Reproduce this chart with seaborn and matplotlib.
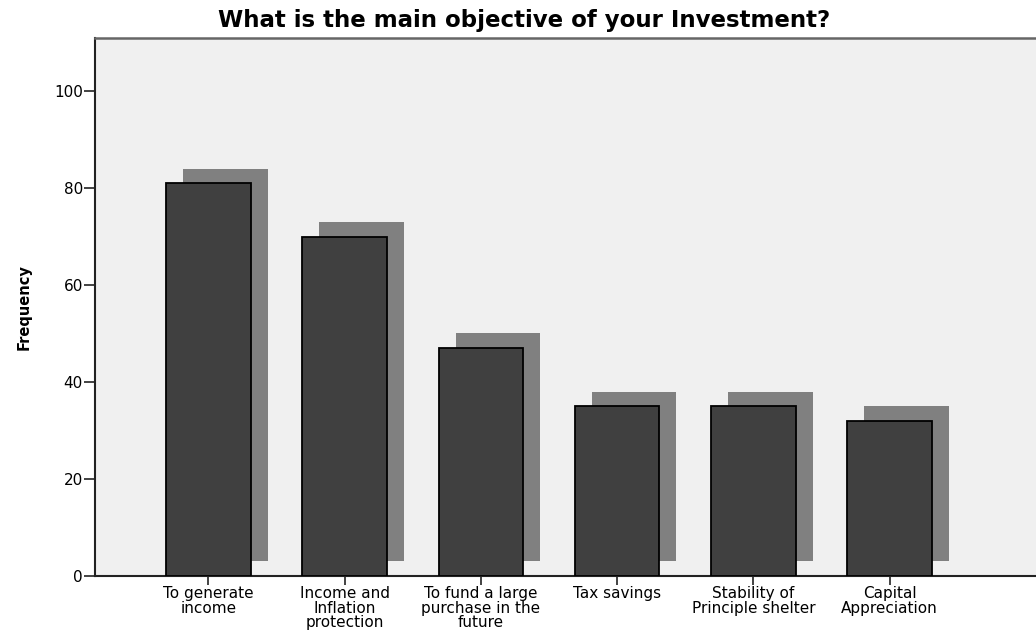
import matplotlib
matplotlib.use("Agg")
import matplotlib.pyplot as plt
import seaborn as sns
import numpy as np
import pandas as pd

# data
categories = ["To generate\nincome", "Income and\nInflation\nprotection",
              "To fund a large\npurchase in the\nfuture", "Tax savings",
              "Stability of\nPrinciple shelter", "Capital\nAppreciation"]
frequency = [81, 70, 47, 35, 35, 32]

sns.set_theme(style="white")
plt.rcParams['font.family'] = ['DejaVu Sans']

df = pd.DataFrame({"objective": categories, "Frequency": frequency})

fig = plt.figure(figsize=(10.36, 6.32), dpi=100)
ax = fig.add_axes([0.092, 0.089, 0.91, 0.851])
ax.set_facecolor("#f0f0f0")

# main bars
sns.barplot(data=df, x="objective", y="Frequency", color="#404040",
            edgecolor="black", linewidth=1.3, width=0.62, saturation=1,
            ax=ax, zorder=3)

# drop shadow behind each bar
xpos = np.arange(len(categories))
ax.bar(xpos + 0.125, frequency, bottom=3, width=0.62, color="#808080",
       linewidth=0, zorder=2)

ax.set_xlim(-0.83, 6.09)
ax.set_ylim(0, 111)
ax.set_yticks([0, 20, 40, 60, 80, 100])
ax.set_xlabel("")
ax.set_ylabel("Frequency", fontsize=10.5, fontweight="bold", color="black")
ax.yaxis.set_label_coords(-0.068, 0.5)

# title sits centred on the figure rather than the axes
fig.text(0.506, 0.968, "What is the main objective of your Investment?",
         fontsize=16.5, fontweight="bold", ha="center", va="center",
         color="black")

ax.tick_params(axis="x", bottom=True, length=6.5, width=1.2, color="#222222",
               labelsize=11, pad=1, labelcolor="black")
ax.tick_params(axis="y", left=True, length=8, width=1.2, color="#222222",
               labelsize=11, pad=1, labelcolor="black")
for lab in ax.get_xticklabels():
    lab.set_linespacing(0.95)

for side in ["left", "bottom"]:
    ax.spines[side].set_color("#222222")
    ax.spines[side].set_linewidth(1.5)
ax.spines["top"].set_color("#666666")
ax.spines["top"].set_linewidth(1.8)
ax.spines["right"].set_visible(False)

fig.savefig("out.png", dpi=100)
